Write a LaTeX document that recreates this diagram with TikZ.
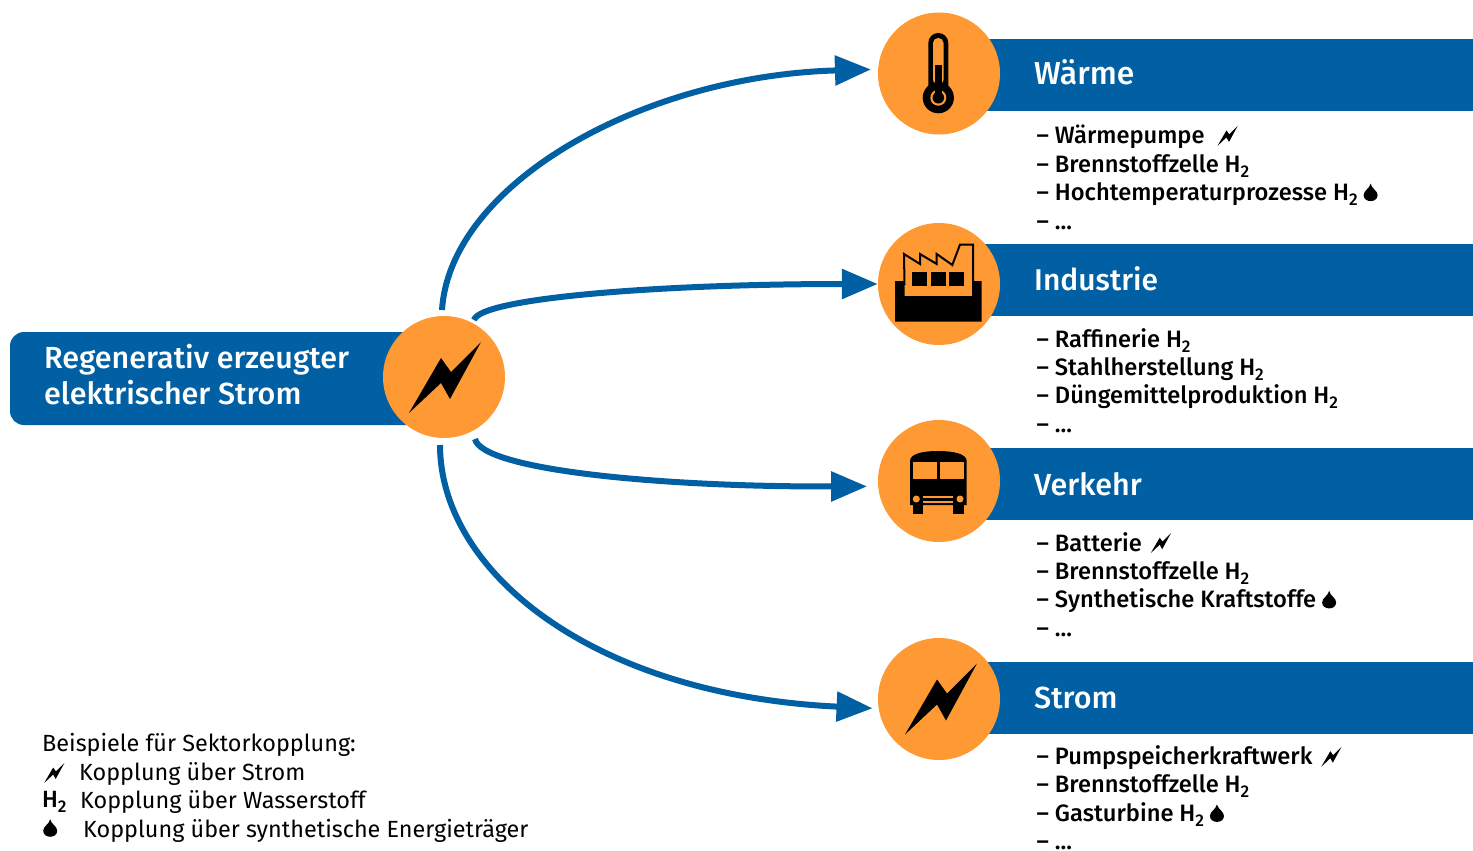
\documentclass[tikz,border=0pt]{standalone}
\usepackage{fontspec}
\setmainfont{Fira Sans}
\newfontfamily\medfont{Fira Sans Medium}
\usetikzlibrary{arrows.meta}
\definecolor{balken}{HTML}{0060A3}
\definecolor{kreis}{HTML}{FF9933}
\newcommand{\blitzpath}{(37,-36) -- (7,-6) -- (-3,-20) -- (-35,35) -- (-3,5) -- (6,21) -- cycle}
\newcommand{\blitz}{\hspace{3pt}\tikz[x=.28pt,y=-.28pt,baseline=-7.8pt] \fill[black] \blitzpath;}
\newcommand{\tropfen}{\tikz[x=1pt,y=-1pt,baseline=-1pt] \fill[black] (0,-16) .. controls (1,-11) and (7,-9) .. (7,-4.5) .. controls (7,3.5) and (-7,3.5) .. (-7,-4.5) .. controls (-7,-9) and (-1,-11) .. (0,-16) -- cycle;}
\newcommand{\Hz}{H\raisebox{-5pt}{\fontsize{17}{17}\selectfont 2}}
\tikzset{
    bar/.style={fill=balken, minimum height=72pt, inner sep=0pt, anchor=west},
    hub/.style={circle, fill=kreis, minimum size=122pt, inner sep=0pt},
    head/.style={text=white, anchor=west, inner sep=0pt, font=\medfont\fontsize{30.5}{36}\selectfont},
    sublist/.style={anchor=north west, align=left, inner sep=0pt, font=\medfont\fontsize{23.7}{28.4}\selectfont},
    legend/.style={anchor=west, inner sep=0pt, font=\fontsize{23.4}{28}\selectfont},
    flow/.style={draw=balken, line width=6pt, -{Triangle[length=36pt,width=29pt]}},
    bolt/.pic={\fill[black] \blitzpath;}
}
\begin{document}
\begin{tikzpicture}[x=1pt,y=-1pt]
    \useasboundingbox (0,0) rectangle (1473,851);
    % Balken
    \node [bar, minimum width=488pt] (barW) at (985,75) {};
    \node [bar, minimum width=488pt] (barI) at (985,279.5) {};
    \node [bar, minimum width=488pt] (barV) at (985,483.5) {};
    \node [bar, minimum width=488pt] (barS) at (985,697.5) {};
    \fill [balken, rounded corners=14pt] (420,332) -- (10,332) -- (10,425) -- (420,425) [sharp corners] -- cycle;
    % Kreise
    \node [hub] (quelle) at (444,377) {};
    \node [hub] (waerme) at (939,73.5) {};
    \node [hub] (industrie) at (939,284) {};
    \node [hub] (verkehr) at (939,481) {};
    \node [hub] (strom) at (939,699) {};
    % Pfeile
    \coordinate (q1) at (442,310);
    \coordinate (q2) at (474,320);
    \coordinate (q3) at (475,439);
    \coordinate (q4) at (440,445);
    \draw [flow, shorten >=7pt] (q1) .. controls (450,185) and (640,76) .. (waerme.176);
    \draw [flow, shorten >=0pt] (q2) .. controls (480,298) and (660,284) .. (industrie.west);
    \draw [flow, shorten >=11pt] (q3) .. controls (482,470) and (660,487) .. (verkehr.185);
    \draw [flow, shorten >=6pt] (q4) .. controls (440,570) and (590,695) .. (strom.189);
    % Symbole
    \pic at (444,378) {bolt};
    \pic at (940,699.5) {bolt};
    \fill [black, rounded corners=9.9pt] (928.3,108) rectangle (948.3,33);
    \fill [kreis, rounded corners=5pt] (933,85) rectangle (943.5,38);
    \fill [black] (938.3,97.7) circle [radius=15.6];
    \fill [kreis] (938.3,97.7) circle [radius=8];
    \fill [black] (938.3,97.7) circle [radius=5.8];
    \fill [black] (935,65) rectangle (941.8,95);
    \draw [black, line width=2pt] (904.5,285) -- (904,254) -- (920,264) -- (920,254) -- (936.7,264) -- (936.7,254) -- (952.3,265) -- (960,244.5) -- (973,244.5) -- (973,285);
    \fill [black] (895,281) -- (904.5,281) -- (904.5,296) -- (972,296) -- (972,281) -- (981.7,281) -- (981.7,321.7) -- (895,321.7) -- cycle;
    \fill [black] (911.7,272.3) rectangle (926.7,286);
    \fill [black] (930.7,272.3) rectangle (945.7,286);
    \fill [black] (949.3,272.3) rectangle (964.3,286);
    \fill [black] (910,505) -- (910,461) .. controls (910,454) and (922,451) .. (938,451) .. controls (954,451) and (966.7,454) .. (966.7,461) -- (966.7,505) -- cycle;
    \fill [black] (912.7,500) rectangle (922.7,514.3);
    \fill [black] (953.3,500) rectangle (964,514.3);
    \fill [kreis] (913.3,462.3) rectangle (936.7,479);
    \fill [kreis] (940,462.3) rectangle (964,479);
    \fill [kreis] (916.3,499) circle [radius=3.5];
    \fill [kreis] (960,499) circle [radius=3.5];
    \fill [kreis] (923.3,496) rectangle (953.3,498);
    \fill [kreis] (923.3,500.5) rectangle (953.3,502.5);
    % Texte
    \node [text=white, anchor=north west, align=left, inner sep=0pt, font=\medfont\fontsize{30.5}{36}\selectfont] (titel) at (44,344) {Regenerativ erzeugter\\elektrischer Strom};
    \node [head, font=\medfont\fontsize{31.8}{36}\selectfont] (tW) at (1034,72) {Wärme};
    \node [head, font=\medfont\fontsize{30}{36}\selectfont] (tI) at (1034,279) {Industrie};
    \node [head] (tV) at (1034,484) {Verkehr};
    \node [head] (tS) at (1034,698) {Strom};
    \node [sublist] (lW) at (1036.5,125) {– Wärmepumpe\hspace{4pt} \blitz\\– Brennstoffzelle \Hz\\– Hochtemperaturprozesse \Hz\ \tropfen\\– ...};
    \node [sublist] (lI) at (1036.5,328) {– Raffinerie \Hz\\– Stahlherstellung \Hz\\– Düngemittelproduktion \Hz\\– ...};
    \node [sublist] (lV) at (1036.5,532) {– Batterie \blitz\\– Brennstoffzelle \Hz\\– Synthetische Kraftstoffe \tropfen\\– ...};
    \node [sublist] (lS) at (1036.5,745.5) {– Pumpspeicherkraftwerk \blitz\\– Brennstoffzelle \Hz\\– Gasturbine \Hz\ \tropfen\\– ...};
    % Legende
    \node [legend] (leg0) at (42,745) {Beispiele für Sektorkopplung:};
    \node [legend] (leg1i) at (41,773) {\blitz};
    \node [legend] (leg1) at (79,774) {Kopplung über Strom};
    \node [legend] (leg2) at (80,802) {Kopplung über Wasserstoff};
    \node [legend, font=\medfont\fontsize{23.5}{28}\selectfont] (leg2i) at (42,802) {\Hz};
    \node [legend] (leg3i) at (43,829) {\tropfen};
    \node [legend] (leg3) at (83,831) {Kopplung über synthetische Energieträger};
\end{tikzpicture}
\end{document}
